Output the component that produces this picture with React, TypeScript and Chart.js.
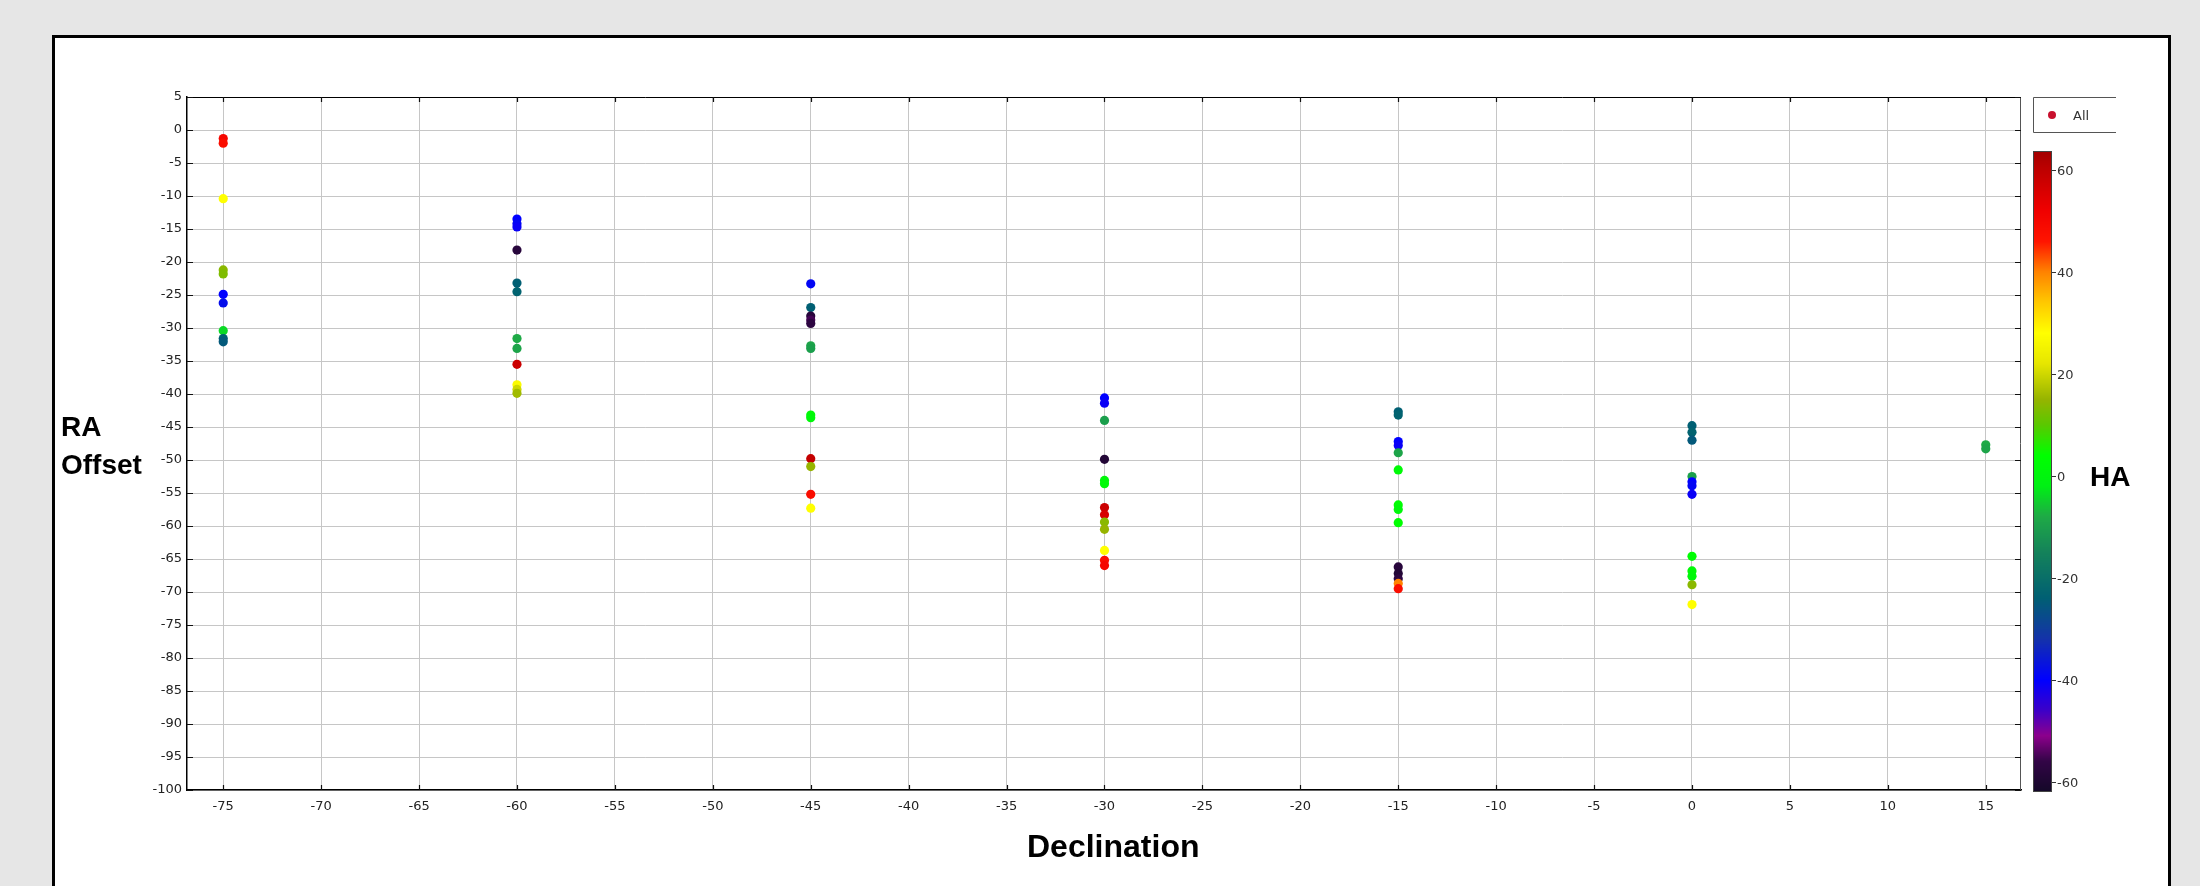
import React, { useEffect, useRef } from 'react';
import { Chart, registerables } from 'chart.js';

Chart.register(...registerables);

// ---------- data ----------
const DECLINATIONS = [-75, -60, -45, -30, -15, 0, 15];

const RA_M75 = [-1.3, -2.0, -10.4, -21.2, -21.8, -24.9, -26.2, -30.4, -31.6, -32.1];
const HA_M75 = [50, 48, 28, 14, 13, -40, -38, -4, -24, -25];

const RA_M60 = [-13.5, -14.2, -14.7, -18.2, -23.2, -24.5, -31.6, -33.1, -35.5, -38.6, -39.3, -39.9];
const HA_M60 = [-40, -39, -41, -58, -24, -23, -8, -9, 58, 27, 20, 16];

const RA_M45 = [-23.3, -26.9, -28.2, -28.8, -29.3, -32.7, -33.1, -43.2, -43.6, -49.8, -51.0, -55.2, -57.3];
const HA_M45 = [-39, -24, -58, -55, -57, -9, -10, 2, 1, 59, 15, 48, 28];

const RA_M30 = [-40.6, -41.4, -44.0, -49.9, -53.1, -53.6, -57.2, -58.3, -59.4, -60.5, -63.7, -65.2, -66.0];
const HA_M30 = [-40, -41, -10, -59, 1, 2, 58, 56, 14, 15, 28, 48, 50];

const RA_M15 = [-42.7, -43.2, -47.2, -47.8, -48.9, -51.5, -56.8, -57.5, -59.5, -66.2, -67.2, -68.0, -68.7, -69.5];
const HA_M15 = [-24, -23, -40, -41, -9, 2, 3, 1, 4, -58, -59, -57, 40, 48];

const RA_0 = [-44.8, -45.8, -47.0, -52.5, -53.3, -53.9, -55.2, -64.6, -66.8, -67.6, -68.9, -71.9];
const HA_0 = [-24, -23, -25, -10, -40, -39, -41, 3, 2, 1, 14, 28];

const RA_P15 = [-47.7, -48.3];
const HA_P15 = [-8, -9];

const RA_COLUMNS = [RA_M75, RA_M60, RA_M45, RA_M30, RA_M15, RA_0, RA_P15];
const HA_COLUMNS = [HA_M75, HA_M60, HA_M45, HA_M30, HA_M15, HA_0, HA_P15];

const X_TICKS = [-75, -70, -65, -60, -55, -50, -45, -40, -35, -30, -25, -20, -15, -10, -5, 0, 5, 10, 15];
const Y_TICKS = [5, 0, -5, -10, -15, -20, -25, -30, -35, -40, -45, -50, -55, -60, -65, -70, -75, -80, -85, -90, -95, -100];
const CB_TICKS = [60, 40, 20, 0, -20, -40, -60];
const CB_MIN = -62;
const CB_MAX = 63.7;

// colormap stops (HA -> rgb)
const CMAP_HA = [-62, -56, -51, -46, -40, -32, -24, -15, -8, -2, 4, 10, 15, 22, 28, 34, 40, 46, 52, 60, 64];
const CMAP_RGB = [
  [20, 8, 40], [50, 5, 70], [140, 0, 140], [60, 0, 200], [0, 0, 255], [20, 50, 170],
  [0, 95, 115], [20, 130, 90], [30, 170, 70], [0, 240, 20], [0, 255, 0], [90, 200, 0],
  [150, 180, 0], [230, 230, 0], [255, 255, 0], [255, 200, 0], [255, 130, 0], [255, 20, 0],
  [240, 0, 0], [190, 0, 0], [160, 0, 0],
];

function haColor(h: number): string {
  const v = Math.max(CMAP_HA[0], Math.min(CMAP_HA[CMAP_HA.length - 1], h));
  let i = 0;
  while (i < CMAP_HA.length - 2 && v > CMAP_HA[i + 1]) i++;
  const t = (v - CMAP_HA[i]) / (CMAP_HA[i + 1] - CMAP_HA[i]);
  const a = CMAP_RGB[i];
  const b = CMAP_RGB[i + 1];
  const c = a.map((av, k) => Math.round(av + (b[k] - av) * t));
  return `rgb(${c[0]},${c[1]},${c[2]})`;
}

// ---------- layout ----------
const W = 2200;
const H = 886;
const PLOT_LEFT = 187;
const PLOT_RIGHT = 2021;
const PLOT_TOP = 97;
const PLOT_BOTTOM = 790;
const X_AXIS_H = 40;

const TICK_FONT = '13px "DejaVu Sans", sans-serif';

const decorPlugin = {
  id: 'decor',
  afterDraw(chart: any) {
    const { ctx, chartArea: a, scales } = chart;
    const xs = scales.x;
    const ys = scales.y;
    ctx.save();
    // frame top and right
    ctx.lineWidth = 1;
    ctx.strokeStyle = '#000';
    ctx.beginPath();
    ctx.moveTo(a.left, a.top + 0.5);
    ctx.lineTo(a.right, a.top + 0.5);
    ctx.stroke();
    ctx.strokeStyle = '#555';
    ctx.beginPath();
    ctx.moveTo(a.right - 0.5, a.top);
    ctx.lineTo(a.right - 0.5, a.bottom);
    ctx.stroke();
    // inward ticks
    ctx.strokeStyle = '#111';
    ctx.lineWidth = 1.2;
    X_TICKS.forEach((v) => {
      const px = Math.round(xs.getPixelForValue(v)) + 0.5;
      ctx.beginPath();
      ctx.moveTo(px, a.bottom);
      ctx.lineTo(px, a.bottom - 5);
      ctx.moveTo(px, a.top);
      ctx.lineTo(px, a.top + 5);
      ctx.stroke();
    });
    Y_TICKS.forEach((v) => {
      const py = Math.round(ys.getPixelForValue(v)) + 0.5;
      ctx.beginPath();
      ctx.moveTo(a.left, py);
      ctx.lineTo(a.left + 6, py);
      ctx.moveTo(a.right, py);
      ctx.lineTo(a.right - 6, py);
      ctx.stroke();
    });

    // legend box
    const lx0 = 2033.5, lx1 = 2116, ly0 = 97.5, ly1 = 132.5;
    ctx.strokeStyle = '#555';
    ctx.lineWidth = 1;
    ctx.beginPath();
    ctx.moveTo(lx1, ly0);
    ctx.lineTo(lx0, ly0);
    ctx.lineTo(lx0, ly1);
    ctx.lineTo(lx1, ly1);
    ctx.stroke();
    ctx.fillStyle = '#c8102e';
    ctx.beginPath();
    ctx.arc(2052, 115, 4, 0, Math.PI * 2);
    ctx.fill();
    ctx.fillStyle = '#333';
    ctx.font = TICK_FONT;
    ctx.textAlign = 'left';
    ctx.textBaseline = 'middle';
    ctx.fillText('All', 2073, 117);

    // colorbar
    const cbL = 2033, cbR = 2052, cbT = 151, cbB = 792;
    const ppu = (cbB - cbT) / (CB_MAX - CB_MIN);
    for (let yy = cbT; yy < cbB; yy++) {
      const h = CB_MAX - (yy + 0.5 - cbT) / ppu;
      ctx.fillStyle = haColor(h);
      ctx.fillRect(cbL, yy, cbR - cbL, 1);
    }
    ctx.strokeStyle = '#444';
    ctx.lineWidth = 1;
    ctx.strokeRect(cbL + 0.5, cbT + 0.5, cbR - cbL - 1, cbB - cbT - 1);
    ctx.fillStyle = '#333';
    ctx.strokeStyle = '#333';
    CB_TICKS.forEach((v) => {
      const py = Math.round(cbB - (v - CB_MIN) * ppu) + 0.5;
      ctx.beginPath();
      ctx.moveTo(cbR, py);
      ctx.lineTo(cbR + 4, py);
      ctx.stroke();
      ctx.fillText(String(v), cbR + 5, py + 1);
    });
    ctx.restore();
  },
};

export default function App() {
  const ref = useRef<HTMLCanvasElement | null>(null);

  useEffect(() => {
    const canvas = ref.current;
    if (!canvas) return;
    const points: { x: number; y: number }[] = [];
    const colors: string[] = [];
    DECLINATIONS.forEach((dec, ci) => {
      RA_COLUMNS[ci].forEach((ra, k) => {
        points.push({ x: dec, y: ra });
        colors.push(haColor(HA_COLUMNS[ci][k]));
      });
    });

    const chart = new Chart(canvas, {
      type: 'scatter',
      data: {
        datasets: [
          {
            label: 'All',
            data: points,
            pointBackgroundColor: colors,
            pointBorderColor: colors,
            pointBorderWidth: 0,
            pointRadius: 4.6,
          },
        ],
      },
      options: {
        animation: false,
        responsive: false,
        maintainAspectRatio: false,
        devicePixelRatio: 1,
        layout: {
          padding: {
            left: 0,
            top: PLOT_TOP,
            right: W - PLOT_RIGHT,
            bottom: H - PLOT_BOTTOM - X_AXIS_H,
          },
        },
        plugins: {
          legend: { display: false },
          tooltip: { enabled: false },
        },
        scales: {
          x: {
            type: 'linear',
            min: -76.85,
            max: 16.8,
            afterBuildTicks: (axis: any) => {
              axis.ticks = X_TICKS.map((v) => ({ value: v }));
            },
            afterFit: (scale: any) => {
              scale.height = X_AXIS_H;
            },
            grid: { color: '#c6c6c6', lineWidth: 1, drawTicks: false },
            border: { display: true, color: '#000', width: 1.5 },
            ticks: {
              padding: 9,
              color: '#222',
              font: { family: '"DejaVu Sans", sans-serif', size: 13 },
              maxRotation: 0,
              autoSkip: false,
            },
          },
          y: {
            type: 'linear',
            min: -100,
            max: 5,
            afterBuildTicks: (axis: any) => {
              axis.ticks = Y_TICKS.map((v) => ({ value: v }));
            },
            afterFit: (scale: any) => {
              scale.width = PLOT_LEFT;
            },
            grid: { color: '#c6c6c6', lineWidth: 1, drawTicks: false },
            border: { display: true, color: '#000', width: 1.5 },
            ticks: {
              padding: 5,
              color: '#222',
              font: { family: '"DejaVu Sans", sans-serif', size: 13 },
              autoSkip: false,
            },
          },
        },
      },
      plugins: [decorPlugin],
    });
    return () => chart.destroy();
  }, []);

  const labelFont = '"Liberation Sans", Arial, sans-serif';

  return (
    <div
      style={{
        position: 'fixed',
        left: 0,
        top: 0,
        width: W,
        height: H,
        background: '#e6e6e6',
        overflow: 'hidden',
      }}
    >
      <div
        style={{
          position: 'absolute',
          left: 52,
          top: 35,
          width: 2119,
          height: 900,
          background: '#fff',
          border: '3px solid #000',
          boxSizing: 'border-box',
        }}
      />
      <canvas
        ref={ref}
        width={W}
        height={H}
        style={{ position: 'absolute', left: 0, top: 0, width: W, height: H }}
      />
      <div
        style={{
          position: 'absolute',
          left: 61,
          top: 408,
          font: `bold 28px ${labelFont}`,
          lineHeight: '38px',
          color: '#000',
        }}
      >
        RA
        <br />
        Offset
      </div>
      <div
        style={{
          position: 'absolute',
          left: 2090,
          top: 458,
          font: `bold 28px ${labelFont}`,
          lineHeight: '38px',
          color: '#000',
        }}
      >
        HA
      </div>
      <div
        style={{
          position: 'absolute',
          left: 1027,
          top: 826,
          font: `bold 32px ${labelFont}`,
          lineHeight: '40px',
          color: '#000',
          whiteSpace: 'nowrap',
        }}
      >
        Declination
      </div>
    </div>
  );
}
